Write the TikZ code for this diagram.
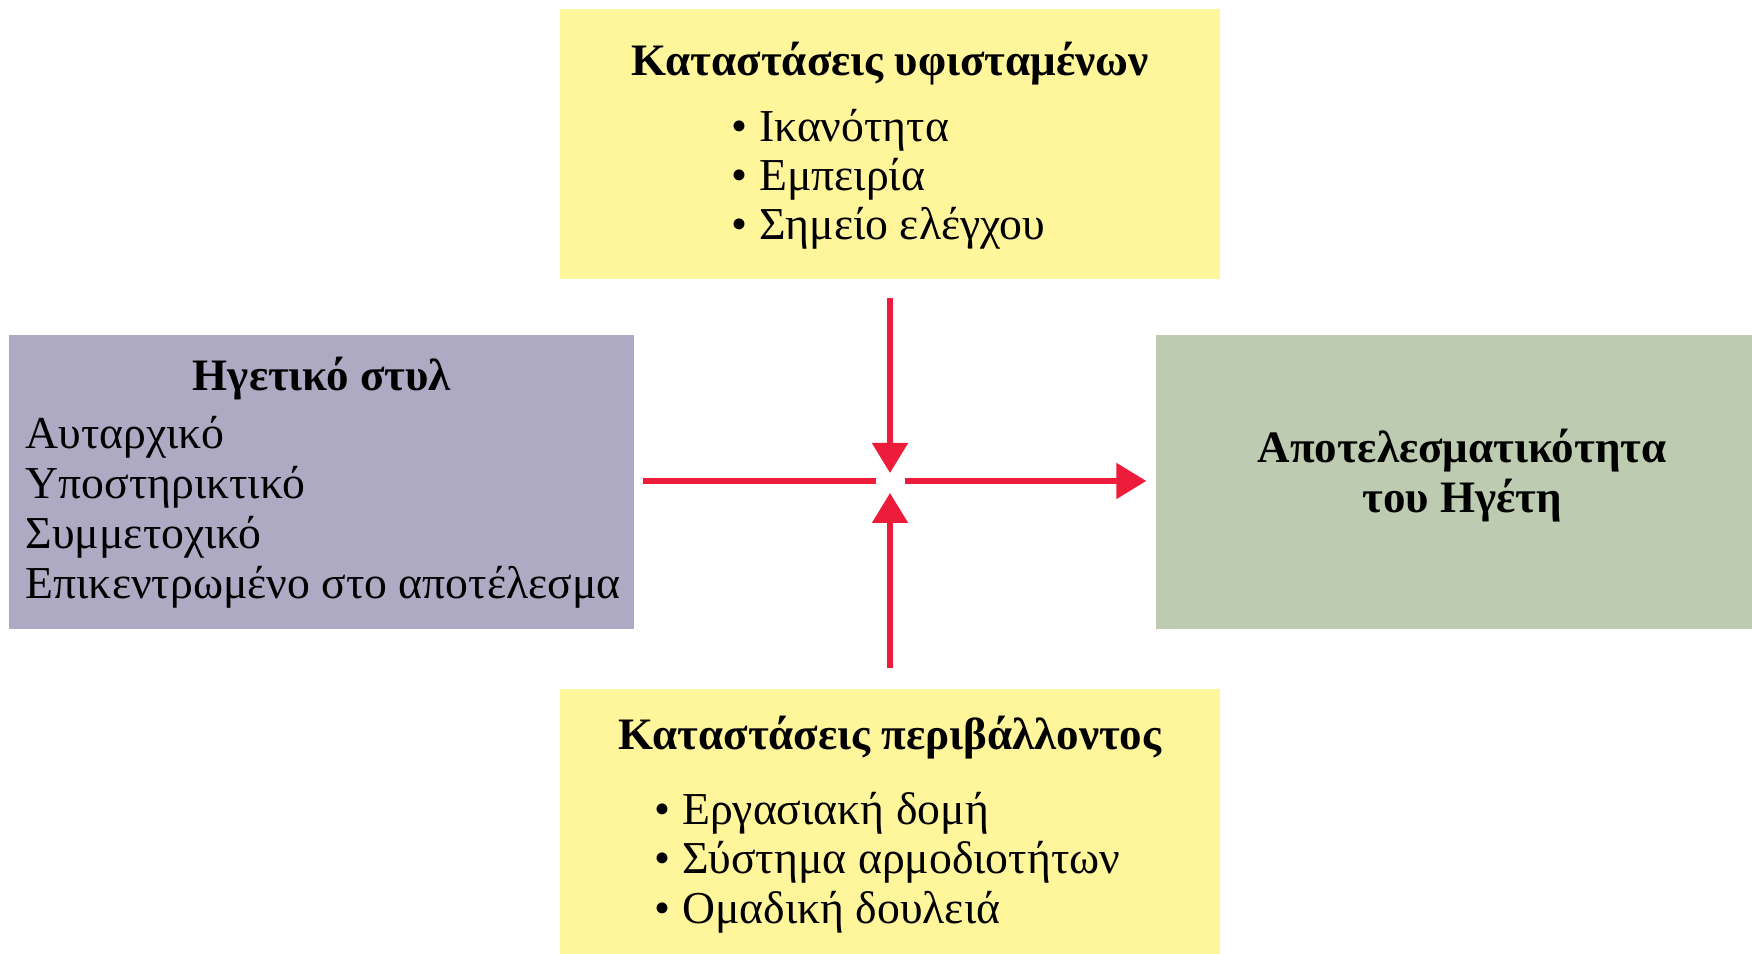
\documentclass[tikz,border=0pt]{standalone}
\usepackage{fontspec}
\setmainfont{Liberation Serif}
\usetikzlibrary{arrows.meta, positioning}

\definecolor{condyellow}{RGB}{255,245,155}
\definecolor{stylepurple}{RGB}{175,170,195}
\definecolor{effectgreen}{RGB}{189,203,176}
\definecolor{flowred}{RGB}{237,28,58}

\begin{document}
\begin{tikzpicture}[
    >=Stealth,
    % Box styles
    factorbox/.style={rectangle, fill=condyellow, draw=none, inner sep=0pt},
    stylebox/.style={rectangle, fill=stylepurple, draw=none, inner sep=0pt},
    effectbox/.style={rectangle, fill=effectgreen, draw=none, inner sep=0pt},
    % Text styles
    boxtitle/.style={font=\fontsize{12.8}{15}\selectfont\bfseries, inner sep=0pt, anchor=base},
    boxitem/.style={font=\fontsize{13}{15}\selectfont, inner sep=0pt, anchor=base west},
    % Connector style
    flow/.style={-{Triangle[length=3mm, width=3.5mm]}, flowred, line width=1.5pt},
    plainflow/.style={flowred, line width=1.5pt}
]

    % === CANVAS ===
    \useasboundingbox (0,0) rectangle (17.52,9.54);

    % === BOXES ===
    \node[factorbox, minimum width=6.60cm, minimum height=2.70cm] (subbox) at (8.90,8.10) {};
    \node[stylebox, minimum width=6.25cm, minimum height=2.94cm] (stylebox) at (3.215,4.72) {};
    \node[effectbox, minimum width=5.96cm, minimum height=2.94cm] (effbox) at (14.54,4.72) {};
    \node[factorbox, minimum width=6.60cm, minimum height=2.65cm] (envbox) at (8.90,1.325) {};

    % === SUBORDINATE CONDITIONS ===
    \node[boxtitle] (subtitle) at (8.90,8.78) {Καταστάσεις υφισταμένων};
    \foreach \y/\t/\n in {8.12/Ικανότητα/1, 7.63/Εμπειρία/2, 7.14/Σημείο ελέγχου/3} {
        \node[boxitem] (subitem\n) at (7.31,\y) {• \t};
    }

    % === LEADERSHIP STYLE ===
    \node[boxtitle] (styletitle) at (3.22,5.63) {Ηγετικό στυλ};
    \foreach \y/\t/\n in {5.05/Αυταρχικό/1, 4.55/Υποστηρικτικό/2, 4.05/Συμμετοχικό/3, 3.55/Επικεντρωμένο στο αποτέλεσμα/4} {
        \node[boxitem] (styleitem\n) at (0.25,\y) {\t};
    }

    % === EFFECTIVENESS ===
    \node[boxtitle] (efftitle1) at (14.62,4.91) {Αποτελεσματικότητα};
    \node[boxtitle] (efftitle2) at (14.62,4.41) {του Ηγέτη};

    % === ENVIRONMENT CONDITIONS ===
    \node[boxtitle] (envtitle) at (8.90,2.04) {Καταστάσεις περιβάλλοντος};
    \foreach \y/\t/\n in {1.29/Εργασιακή δομή/1, 0.80/Σύστημα αρμοδιοτήτων/2, 0.30/Ομαδική δουλειά/3} {
        \node[boxitem] (envitem\n) at (6.54,\y) {• \t};
    }

    % === CONNECTORS ===
    \coordinate (hub) at (8.90,4.73);
    \draw[flow, shorten <=0.18cm, shorten >=0.08cm] (subbox.south) -- (hub);
    \draw[flow, shorten <=0.20cm, shorten >=0.12cm] (envbox.north) -- (hub);
    \draw[plainflow, shorten <=0.08cm, shorten >=0.14cm] (stylebox.east |- hub) -- (hub);
    \draw[flow, shorten <=0.15cm, shorten >=0.09cm] (hub) -- (effbox.west |- hub);

\end{tikzpicture}
\end{document}
